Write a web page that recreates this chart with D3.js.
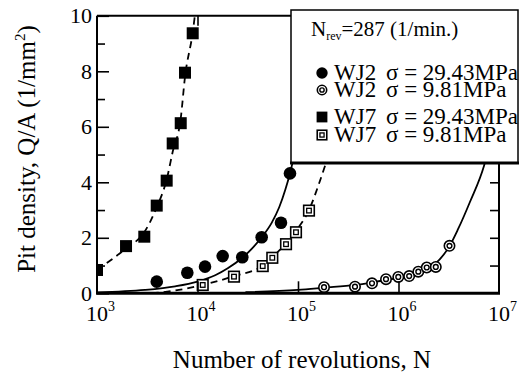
<!DOCTYPE html>
<html>
<head>
<meta charset="utf-8">
<script src="https://cdn.jsdelivr.net/npm/d3@7"></script>
<style>
  html, body { margin: 0; padding: 0; background: #fff; }
  svg { display: block; }
  text { font-family: "Liberation Serif", "Times New Roman", serif; fill: #000; }
</style>
</head>
<body>
<svg id="chart" width="520" height="376"></svg>
<script>
// Measured points: number of revolutions N and pit density Q/A (1/mm^2)
const wj2HighN = [3930, 7920, 11880, 17800, 27900, 43500, 67700, 83200];
const wj2HighQ = [0.42, 0.74, 0.96, 1.34, 1.30, 2.02, 2.54, 4.32];

const wj2LowN = [181500, 369000, 545000, 751000, 995000, 1277000, 1574000, 1909000, 2350000, 3216000];
const wj2LowQ = [0.22, 0.24, 0.36, 0.51, 0.59, 0.62, 0.78, 0.93, 0.95, 1.71];

const wj7HighN = [1000, 1945, 2955, 3928, 4935, 5665, 6810, 7510, 8960];
const wj7HighQ = [0.84, 1.70, 2.04, 3.16, 4.06, 5.40, 6.13, 7.95, 9.37];

const wj7LowN = [11270, 23070, 44550, 55500, 76000, 95500, 128600];
const wj7LowQ = [0.30, 0.60, 0.98, 1.28, 1.77, 2.20, 2.98];

// Trend curves drawn through each data set
const wj2HighFitN = [1000, 3000, 6000, 10000, 15000, 20000, 27900, 35000, 43500, 54700, 65000, 75000, 83200, 92000, 100000];
const wj2HighFitQ = [0.03, 0.12, 0.25, 0.42, 0.65, 0.90, 1.28, 1.62, 2.02, 2.54, 3.10, 3.75, 4.32, 5.00, 5.60];

const wj2LowFitN = [30000, 100000, 181500, 369000, 600000, 1000000, 1600000, 2300000, 3216000, 3900000, 5150000, 7100000, 8000000];
const wj2LowFitQ = [0.04, 0.12, 0.20, 0.30, 0.42, 0.56, 0.75, 1.05, 1.70, 2.30, 3.30, 4.60, 5.30];

const wj7HighFitN = [1000, 1945, 2955, 3928, 4935, 5665, 6810, 7510, 8960, 9700];
const wj7HighFitQ = [0.84, 1.62, 2.20, 3.10, 4.10, 5.10, 6.30, 7.80, 9.40, 10.40];

const wj7LowFitN = [3500, 6000, 11270, 23070, 44550, 55500, 76000, 95500, 128600, 160000, 190000];
const wj7LowFitQ = [0.00, 0.10, 0.30, 0.62, 1.00, 1.30, 1.80, 2.25, 3.00, 3.90, 4.70];

// Axis ticks
const xTickExps = [3, 4, 5, 6, 7];
const yMajorTicks = [0, 2, 4, 6, 8, 10];
const yMinorTicks = [1, 3, 5, 7, 9];
const yRightTicks = [1, 2, 3, 4, 5, 6, 7, 8, 9];

// Legend rows: specimen name and applied stress
const legendSpecimens = ["WJ2", "WJ2", "WJ7", "WJ7"];
const legendStresses = ["\u03c3 = 29.43MPa", "\u03c3 = 9.81MPa", "\u03c3 = 29.43MPa", "\u03c3 = 9.81MPa"];
const legendKinds = ["dot", "ring", "square", "boxed"];

const svg = d3.select("#chart");
const pL = 97, pR = 499, pT = 15.8, pB = 293.3;

const x = d3.scaleLog().domain([1e3, 1e7]).range([pL, pR]);
const y = d3.scaleLinear().domain([0, 10]).range([pB, pT]);

const zip = (ns, qs) => ns.map((n, i) => ({ n, q: qs[i] }));

svg.append("defs").append("clipPath").attr("id", "plotClip")
  .append("rect").attr("x", pL).attr("y", pT)
  .attr("width", pR - pL).attr("height", pB - pT);

const plot = svg.append("g").attr("clip-path", "url(#plotClip)");

const line = d3.line().x(d => x(d.n)).y(d => y(d.q)).curve(d3.curveMonotoneX);

function drawCurve(ns, qs, dashed) {
  plot.append("path").datum(zip(ns, qs))
    .attr("d", line).attr("fill", "none").attr("stroke", "#000")
    .attr("stroke-width", 1.8)
    .attr("stroke-dasharray", dashed ? "7,5" : null);
}
drawCurve(wj2HighFitN, wj2HighFitQ, false);
drawCurve(wj2LowFitN, wj2LowFitQ, false);
drawCurve(wj7HighFitN, wj7HighFitQ, true);
drawCurve(wj7LowFitN, wj7LowFitQ, true);

// Marker shapes
function marker(g, kind, cx, cy, s) {
  s = s || 1;
  if (kind === "dot") {
    g.append("circle").attr("cx", cx).attr("cy", cy).attr("r", 6.3 * s).attr("fill", "#000");
  } else if (kind === "ring") {
    g.append("circle").attr("cx", cx).attr("cy", cy).attr("r", 5.2 * s)
      .attr("fill", "#fff").attr("stroke", "#000").attr("stroke-width", 1.6);
    g.append("circle").attr("cx", cx).attr("cy", cy).attr("r", 2.4 * s)
      .attr("fill", "none").attr("stroke", "#000").attr("stroke-width", 1.4);
  } else if (kind === "square") {
    g.append("rect").attr("x", cx - 6 * s).attr("y", cy - 6 * s)
      .attr("width", 12 * s).attr("height", 12 * s).attr("fill", "#000");
  } else {
    g.append("rect").attr("x", cx - 5.3 * s).attr("y", cy - 5.3 * s)
      .attr("width", 10.6 * s).attr("height", 10.6 * s)
      .attr("fill", "#fff").attr("stroke", "#000").attr("stroke-width", 1.6);
    g.append("rect").attr("x", cx - 2.3 * s).attr("y", cy - 2.3 * s)
      .attr("width", 4.6 * s).attr("height", 4.6 * s)
      .attr("fill", "none").attr("stroke", "#000").attr("stroke-width", 1.3);
  }
}

function drawPoints(ns, qs, kind) {
  const g = plot.append("g");
  zip(ns, qs).forEach(d => marker(g, kind, x(d.n), y(d.q)));
}
drawPoints(wj7LowN, wj7LowQ, "boxed");
drawPoints(wj2LowN, wj2LowQ, "ring");
drawPoints(wj2HighN, wj2HighQ, "dot");
drawPoints(wj7HighN, wj7HighQ, "square");

// Frame
const frame = svg.append("g").attr("stroke", "#000").attr("fill", "none");
frame.append("line").attr("x1", pL).attr("x2", pR).attr("y1", pT).attr("y2", pT).attr("stroke-width", 2);
frame.append("line").attr("x1", pL).attr("x2", pL).attr("y1", pT).attr("y2", pB).attr("stroke-width", 2);
frame.append("line").attr("x1", pR).attr("x2", pR).attr("y1", pT).attr("y2", pB).attr("stroke-width", 2);
frame.append("line").attr("x1", pL - 1).attr("x2", pR + 1).attr("y1", pB).attr("y2", pB).attr("stroke-width", 3);

// Y axis (left) with inward ticks
const yAxis = d3.axisLeft(y).tickValues(yMajorTicks).tickSize(-12).tickPadding(5).tickFormat(d3.format("d"));
const gy = svg.append("g").attr("transform", `translate(${pL},0)`).call(yAxis);
gy.select(".domain").remove();
gy.selectAll(".tick line").attr("stroke-width", 1.6);
gy.selectAll(".tick text").attr("font-size", 22).attr("font-family", "Liberation Serif, serif").attr("dy", "0.32em");

const gyMinor = svg.append("g").attr("transform", `translate(${pL},0)`)
  .call(d3.axisLeft(y).tickValues(yMinorTicks).tickSize(-8).tickFormat(""));
gyMinor.select(".domain").remove();
gyMinor.selectAll(".tick line").attr("stroke-width", 1.6);

const gyRight = svg.append("g").attr("transform", `translate(${pR},0)`)
  .call(d3.axisRight(y).tickValues(yRightTicks).tickSize(-9).tickFormat(""));
gyRight.select(".domain").remove();
gyRight.selectAll(".tick line").attr("stroke-width", 1.6);

// X axis (log) with inward ticks
const xTickVals = xTickExps.map(e => Math.pow(10, e));
const gx = svg.append("g").attr("transform", `translate(0,${pB})`)
  .call(d3.axisBottom(x).tickValues(xTickVals.slice(1, -1)).tickSize(-12).tickFormat(""));
gx.select(".domain").remove();
gx.selectAll(".tick line").attr("stroke-width", 1.6);

const gxTop = svg.append("g").attr("transform", `translate(0,${pT})`)
  .call(d3.axisTop(x).tickValues(xTickVals.slice(1, -1)).tickSize(-10).tickFormat(""));
gxTop.select(".domain").remove();
gxTop.selectAll(".tick line").attr("stroke-width", 1.6);

// Decade labels 10^k
const xl = svg.append("g");
xTickExps.forEach(e => {
  const px = x(Math.pow(10, e));
  xl.append("text").attr("x", px).attr("y", 321).attr("text-anchor", "middle")
    .attr("font-size", 22).text("10");
  xl.append("text").attr("x", px + 11).attr("y", 311).attr("text-anchor", "start")
    .attr("font-size", 14).text(e);
});

// Axis titles
svg.append("text").attr("x", 302).attr("y", 368).attr("text-anchor", "middle")
  .attr("font-size", 25).text("Number of revolutions, N");

const yt = svg.append("text").attr("transform", "translate(35,149) rotate(-90)")
  .attr("text-anchor", "middle").attr("font-size", 25);
yt.append("tspan").text("Pit density, Q/A (1/mm");
yt.append("tspan").attr("font-size", 15).attr("dy", -10).text("2");
yt.append("tspan").attr("dy", 10).text(")");

// Legend
const lg = svg.append("g");
lg.append("rect").attr("x", 291).attr("y", 10).attr("width", 227).attr("height", 153)
  .attr("fill", "#fff").attr("stroke", "#000").attr("stroke-width", 1.5);
lg.append("line").attr("x1", 290).attr("x2", 519).attr("y1", 163).attr("y2", 163)
  .attr("stroke", "#000").attr("stroke-width", 3);

const nt = lg.append("text").attr("x", 311).attr("y", 36).attr("font-size", 21);
nt.append("tspan").text("N");
nt.append("tspan").attr("font-size", 12).attr("dy", 4).text("rev");
nt.append("tspan").attr("dy", -4).text("=287 (1/min.)");

const rowY = [73, 90, 117, 135];
legendSpecimens.forEach((name, i) => {
  marker(lg, legendKinds[i], 322, rowY[i], 0.9);
  lg.append("text").attr("x", 334).attr("y", rowY[i] + 7).attr("font-size", 23).text(name);
  lg.append("text").attr("x", 386).attr("y", rowY[i] + 7).attr("font-size", 23).text(legendStresses[i]);
});
</script>
</body>
</html>
